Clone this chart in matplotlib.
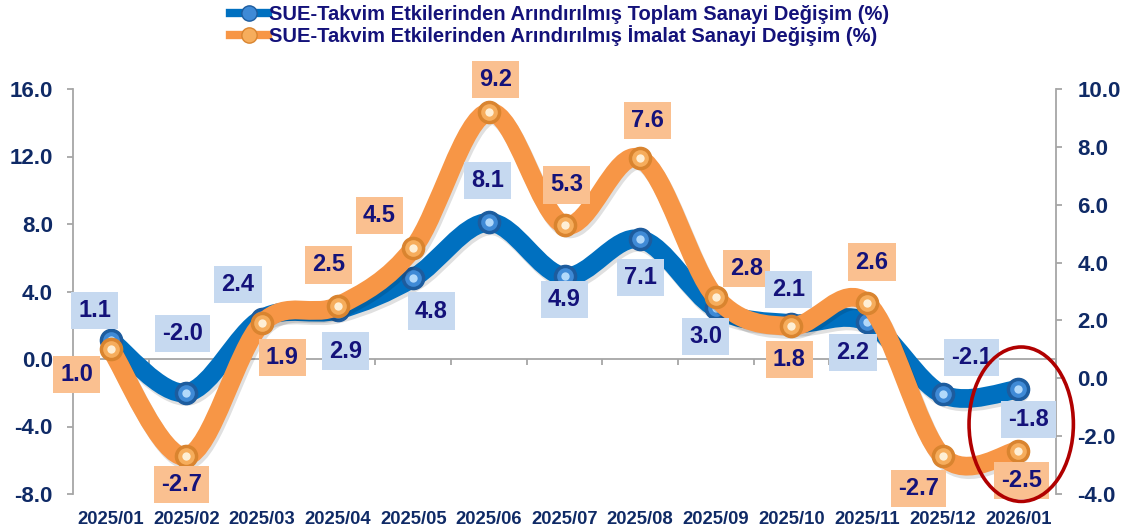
import numpy as np
import matplotlib
matplotlib.use('Agg')
import matplotlib.pyplot as plt
import matplotlib.patheffects as pe
from matplotlib.path import Path
from matplotlib.patches import PathPatch, Ellipse
from matplotlib.lines import Line2D
from matplotlib.legend_handler import HandlerTuple

# ---------------- data ----------------
categories = ['2025/01', '2025/02', '2025/03', '2025/04', '2025/05', '2025/06',
              '2025/07', '2025/08', '2025/09', '2025/10', '2025/11', '2025/12', '2026/01']
toplam = [1.1, -2.0, 2.4, 2.9, 4.8, 8.1, 4.9, 7.1, 3.0, 2.1, 2.2, -2.1, -1.8]
imalat = [1.0, -2.7, 1.9, 2.5, 4.5, 9.2, 5.3, 7.6, 2.8, 1.8, 2.6, -2.7, -2.5]
left_ticks = [-8, -4, 0, 4, 8, 12, 16]
right_ticks = [-4, -2, 0, 2, 4, 6, 8, 10]
name_toplam = 'SUE-Takvim Etkilerinden Arındırılmış Toplam Sanayi Değişim (%)'
name_imalat = 'SUE-Takvim Etkilerinden Arındırılmış İmalat Sanayi Değişim (%)'

# ---------------- layout / style ----------------
# label offsets (pixels) relative to each point
toplam_off = [(-16, 30), (-4, 59), (-24, 34), (8, -41), (18, -33), (-1, 42), (0, -23),
              (0, -38), (-10, -28), (-3, 34), (-14, -31), (29, 37), (10, -30)]
imalat_off = [(-34, -25), (-5, -28), (20, -34), (-9, 41), (-34, 33), (7, 33), (2, 40),
              (7, 38), (31, 29), (-2, -33), (5, 41), (-24, -32), (3, -30)]

BLUE = '#0070c0'
ORANGE = '#f79646'
BLUE_BOX = '#c6d9f0'
ORANGE_BOX = '#fac090'
TXT = '#14127a'
TICK_TXT = '#0f2a66'
GRAY = '#a6a6a6'

plt.rcParams['font.family'] = ['Liberation Sans', 'DejaVu Sans']
plt.rcParams['font.weight'] = 'bold'

W, H = 1134, 527
fig = plt.figure(figsize=(W / 100, H / 100), dpi=100)
ax = fig.add_axes([73 / W, 1 - 494 / H, (1056 - 73) / W, (494 - 89) / H])
ax2 = ax.twinx()

n = len(categories)
x = np.arange(n)


def smooth_path(xs, ys):
    xs = np.asarray(xs, float)
    ys = np.asarray(ys, float)
    m = len(xs)
    verts = [(xs[0], ys[0])]
    codes = [Path.MOVETO]
    for i in range(m - 1):
        p0 = max(i - 1, 0)
        p3 = min(i + 2, m - 1)
        c1 = (xs[i] + (xs[i + 1] - xs[p0]) / 6, ys[i] + (ys[i + 1] - ys[p0]) / 6)
        c2 = (xs[i + 1] - (xs[p3] - xs[i]) / 6, ys[i + 1] - (ys[p3] - ys[i]) / 6)
        verts += [c1, c2, (xs[i + 1], ys[i + 1])]
        codes += [Path.CURVE4] * 3
    return Path(verts, codes)


LW = 13.5
MS = 16
shadow = [pe.SimpleLineShadow(offset=(1.5, -2.5), shadow_color='#000000', alpha=0.12),
          pe.Normal()]

# blue (left axis)
ax.add_patch(PathPatch(smooth_path(x, toplam), fill=False, edgecolor=BLUE, lw=LW,
                       capstyle='round', joinstyle='round', zorder=3, path_effects=shadow))
ax.plot(x, toplam, 'o', ms=MS, color='#1d5c9e', mec='#1d5c9e', zorder=4)
ax.plot(x, toplam, 'o', ms=MS - 4, color='#3f8ad6', mec='none', zorder=5)
ax.plot(x, toplam, 'o', ms=6, color='#bfe2ff', mec='none', alpha=0.9, zorder=6)

# orange (right axis)
ax2.add_patch(PathPatch(smooth_path(x, imalat), fill=False, edgecolor=ORANGE, lw=LW,
                        capstyle='round', joinstyle='round', zorder=3, path_effects=shadow))
ax2.plot(x, imalat, 'o', ms=MS, color='#d9842f', mec='#d9842f', zorder=4)
ax2.plot(x, imalat, 'o', ms=MS - 4, color='#f6ad5c', mec='none', zorder=5)
ax2.plot(x, imalat, 'o', ms=6, color='#fff3dc', mec='none', alpha=0.95, zorder=6)

# axes
ax.set_xlim(-0.5, n - 0.5)
ax.set_ylim(left_ticks[0], left_ticks[-1])
ax2.set_ylim(right_ticks[0], right_ticks[-1])
ax.set_yticks(left_ticks)
ax.set_yticklabels([f'{v:.1f}' for v in left_ticks])
ax2.set_yticks(right_ticks)
ax2.set_yticklabels([f'{v:.1f}' for v in right_ticks])
ax.set_xticks(x)
ax.set_xticklabels(categories)

for a in (ax, ax2):
    for s in ('top', 'bottom'):
        a.spines[s].set_visible(False)
    a.spines['left'].set_visible(a is ax)
    a.spines['right'].set_visible(a is ax2)
    for s in ('left', 'right'):
        a.spines[s].set_color(GRAY)
        a.spines[s].set_linewidth(1.3)
    a.set_facecolor('none')

ax.tick_params(axis='y', colors=GRAY, labelcolor=TICK_TXT, labelsize=16, length=4.5,
               width=1.3, pad=10)
ax2.tick_params(axis='y', colors=GRAY, labelcolor=TICK_TXT, labelsize=16, length=4.5,
                width=1.3, pad=11)
ax.tick_params(axis='x', length=0, labelsize=13.3, labelcolor=TICK_TXT, pad=12)

# category axis line at zero of left axis
zero_frac = (0 - left_ticks[0]) / (left_ticks[-1] - left_ticks[0])
sec = ax.secondary_xaxis(zero_frac)
sec.set_xticks(np.arange(-0.5, n, 1.0))
sec.set_xticklabels([])
sec.tick_params(axis='x', colors=GRAY, length=4, width=1.3, direction='out')
for s in ('top', 'bottom'):
    sec.spines[s].set_color(GRAY)
    sec.spines[s].set_linewidth(1.3)

# value labels
for i in range(n):
    ax2.annotate(f'{toplam[i]:.1f}', xy=(x[i], toplam[i]), xycoords=ax.transData,
                 xytext=toplam_off[i], textcoords='offset pixels', ha='center', va='center',
                 fontsize=17, fontweight='bold', color=TXT, zorder=10,
                 bbox=dict(boxstyle='square,pad=0.3', fc=BLUE_BOX, ec='none'))
    ax2.annotate(f'{imalat[i]:.1f}', xy=(x[i], imalat[i]), xycoords=ax2.transData,
                 xytext=imalat_off[i], textcoords='offset pixels', ha='center', va='center',
                 fontsize=17, fontweight='bold', color=TXT, zorder=10,
                 bbox=dict(boxstyle='square,pad=0.3', fc=ORANGE_BOX, ec='none'))

# highlight ellipse around last period
last = n - 1
lo, hi = right_ticks[0], right_ticks[-1]
imalat_last_left = left_ticks[0] + (imalat[last] - lo) / (hi - lo) * (left_ticks[-1] - left_ticks[0])
cy = (toplam[last] + imalat_last_left) / 2 - 0.25
ell = Ellipse((last + 0.04, cy), width=1.38, height=9.15, transform=ax.transData,
              fill=False, edgecolor='#b00000', lw=2.6, clip_on=False, zorder=20)
ax2.add_patch(ell)

# legend
hb = (Line2D([], [], color=BLUE, lw=6),
      Line2D([], [], ls='none', marker='o', ms=11, color='#3f8ad6', mec='#1d5c9e'))
ho = (Line2D([], [], color=ORANGE, lw=6),
      Line2D([], [], ls='none', marker='o', ms=11, color='#f6ad5c', mec='#d9842f'))
leg = fig.legend([hb, ho], [name_toplam, name_imalat], loc='upper center',
                 bbox_to_anchor=(0.4934, 1.024), ncol=1, frameon=False, fontsize=14.5,
                 labelcolor=TXT, handlelength=1.9, handletextpad=0.05, labelspacing=0.05,
                 handler_map={tuple: HandlerTuple(ndivide=1, pad=0)})
for t in leg.get_texts():
    t.set_fontweight('bold')

fig.savefig('out.png', dpi=100)
